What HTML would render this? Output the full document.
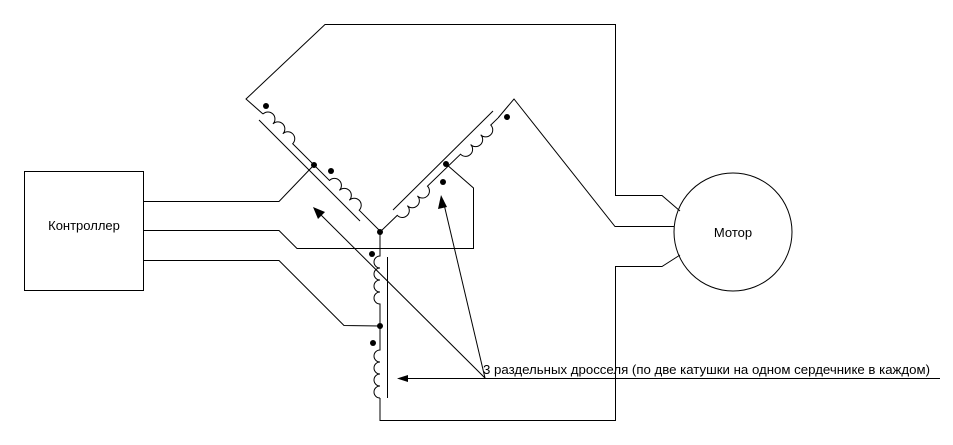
<!DOCTYPE html>
<html><head><meta charset="utf-8"><style>
html,body{margin:0;padding:0;background:#fff;width:953px;height:445px;overflow:hidden}
svg{display:block}
text{font-family:"Liberation Sans",sans-serif;fill:#000}
</style></head><body>
<svg width="953" height="445" viewBox="0 0 953 445" xmlns="http://www.w3.org/2000/svg">
<g fill="none" stroke="#000" stroke-width="1">
<rect x="24.5" y="171.5" width="119" height="119"/>
<polyline points="143,201.5 279,201.5 313,166"/>
<polyline points="143,230.5 279,230.5 297,248.5 473.5,248.5 473.5,188 446,164"/>
<polyline points="143,260.5 279,260.5 344,325.5 380,326"/>
<polyline points="263,114 246,99 325,24.5 615.5,24.5 615.5,195.5 662,195.5 680,211"/>
<polyline points="498,118 514,99 615,226.5 674,226.5"/>
<polyline points="380,398 380,420.5 615.5,420.5 615.5,266.5 662,266.5 680,255"/>
<circle cx="733" cy="232" r="59"/>
<g transform="translate(263,114) rotate(45)">
<path d="M0,0 a7,7 0 0 1 14,0 a7,7 0 0 1 14,0 a7,7 0 0 1 14,0 L94,0 a7,7 0 0 1 14,0 a7,7 0 0 1 14,0 a7,7 0 0 1 14,0 L166,0"/>
</g>
<line x1="259" y1="120" x2="360" y2="221"/>
<g transform="translate(380,232) rotate(-44)">
<path d="M0,0 L24,0 a7,7 0 0 0 14,0 a7,7 0 0 0 14,0 a7,7 0 0 0 14,0 L112,0 a7,7 0 0 0 14,0 a7,7 0 0 0 14,0 a7,7 0 0 0 14,0 L164,0"/>
</g>
<line x1="393" y1="210" x2="493" y2="111"/>
<g transform="translate(380,232) rotate(90)">
<path d="M0,0 L24,0 a6,6 0 0 0 12,0 a6,6 0 0 0 12,0 a6,6 0 0 0 12,0 a6,6 0 0 0 12,0 L118,0 a6,6 0 0 0 12,0 a6,6 0 0 0 12,0 a6,6 0 0 0 12,0 a6,6 0 0 0 12,0 L166,0"/>
</g>
<line x1="387.5" y1="257" x2="387.5" y2="398"/>
<line x1="485" y1="378" x2="316" y2="210"/>
<line x1="485" y1="378" x2="443" y2="200"/>
<line x1="940" y1="378.5" x2="402" y2="378.5"/>
</g>
<g fill="#000">
<polygon points="313,207 325,212 318,219"/>
<polygon points="441,195 447,207 438,209"/>
<polygon points="397,378.5 408,375 408,382"/>
<circle cx="266" cy="106" r="3"/>
<circle cx="314" cy="165" r="3"/>
<circle cx="331" cy="171" r="3"/>
<circle cx="507" cy="117" r="3"/>
<circle cx="446" cy="164" r="3"/>
<circle cx="443" cy="182" r="3"/>
<circle cx="380" cy="232" r="3"/>
<circle cx="372" cy="254" r="3"/>
<circle cx="380" cy="326" r="3"/>
<circle cx="373" cy="343" r="3"/>
</g>
<text x="84" y="230" font-size="13" text-anchor="middle">Контроллер</text>
<text x="733" y="237" font-size="13" text-anchor="middle">Мотор</text>
<text x="483" y="374" font-size="13" textLength="447" lengthAdjust="spacingAndGlyphs">3 раздельных дросселя (по две катушки на одном сердечнике в каждом)</text>
</svg>
</body></html>
